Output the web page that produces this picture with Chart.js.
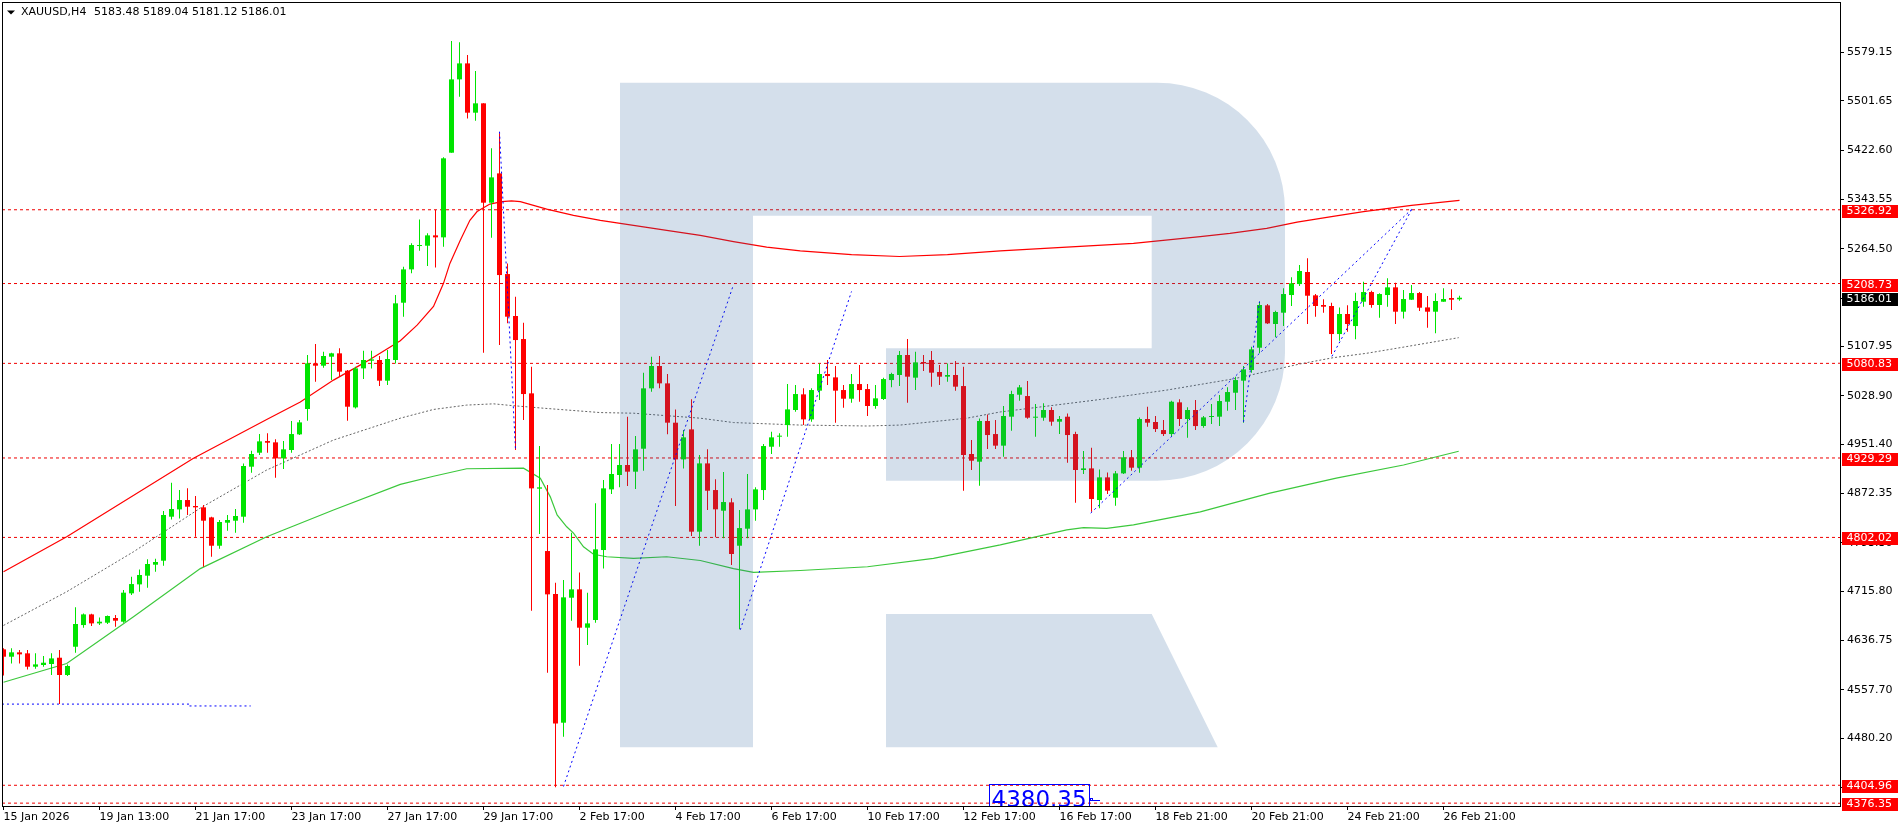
<!DOCTYPE html>
<html>
<head>
<meta charset="utf-8">
<script src="https://cdn.jsdelivr.net/npm/chart.js@4.4.1/dist/chart.umd.min.js"></script>
<style>
  html, body { margin: 0; padding: 0; background: #fff; overflow: hidden; }
</style>
</head>
<body>
<canvas id="chart" width="1904" height="830"></canvas>
<script>
// XAUUSD H4, one entry per bar
const symbol = "XAUUSD,H4";
const lastQuote = [5183.48, 5189.04, 5181.12, 5186.01];

const open = [
  4622.7, 4610.9, 4617.9, 4616.3, 4594.9, 4597.6, 4599.2, 4609.3, 4581.6, 4626.9,
  4661.6, 4678.7, 4664.3, 4665.4, 4672.9, 4667.0, 4712.4, 4726.8, 4740.7, 4758.3,
  4764.7, 4835.2, 4846.9, 4861.9, 4852.3, 4850.2, 4834.1, 4788.7, 4825.6, 4828.8,
  4835.2, 4915.3, 4937.7, 4956.4, 4954.3, 4928.7, 4942.0, 4967.1, 5007.7, 5080.8,
  5077.1, 5091.5, 5096.9, 5069.1, 5010.3, 5072.8, 5085.1, 5086.2, 5053.1, 5086.2,
  5178.0, 5231.4, 5268.8, 5269.3, 5285.9, 5282.7, 5418.3, 5535.8, 5561.4, 5482.4,
  5497.4, 5338.2, 5385.2, 5223.9, 5156.7, 5119.8, 5032.8, 4880.1, 4780.2, 4711.3,
  4505.2, 4705.4, 4718.8, 4657.4, 4669.7, 4781.8, 4879.0, 4902.0, 4918.0, 4907.3,
  4944.1, 5040.8, 5076.6, 5048.8, 4985.8, 4927.0, 4975.1, 4811.2, 4920.6, 4877.9,
  4844.8, 4858.2, 4788.7, 4816.0, 4846.9, 4877.9, 4947.3, 4963.4, 4982.0, 5006.1,
  5031.2, 4991.1, 5037.1, 5063.8, 5058.4, 5038.1, 5024.2, 5047.7, 5039.7, 5012.5,
  5023.7, 5054.1, 5062.2, 5094.2, 5057.9, 5083.0, 5086.2, 5067.0, 5059.5, 5062.2,
  5044.5, 4935.6, 4923.3, 4988.5, 4967.6, 4949.0, 4995.4, 5030.6, 5028.5, 4993.8,
  4993.8, 5006.1, 4987.4, 4995.4, 4967.6, 4910.0, 4912.6, 4861.9, 4898.2, 4865.6,
  4904.6, 4930.3, 4913.7, 4991.7, 4986.9, 4974.0, 4967.6, 5018.4, 4991.7, 5006.1,
  4980.5, 4994.9, 4995.4, 5019.4, 5033.8, 5053.1, 5070.2, 5105.9, 5173.8, 5143.9,
  5162.0, 5190.3, 5207.9, 5227.2, 5189.8, 5174.3, 5172.7, 5127.8, 5159.9, 5140.6,
  5179.6, 5195.1, 5174.3, 5190.3, 5202.6, 5163.6, 5182.8, 5193.5, 5170.5, 5163.6,
  5179.6, 5185.5, 5183.48
];
const high = [
  4624.3, 4624.3, 4621.6, 4621.6, 4616.3, 4612.0, 4616.3, 4621.6, 4598.6, 4690.0,
  4680.3, 4679.8, 4673.9, 4677.1, 4677.7, 4717.7, 4739.1, 4750.8, 4766.9, 4767.9,
  4844.3, 4889.7, 4877.9, 4880.6, 4868.3, 4853.9, 4835.2, 4829.9, 4837.9, 4847.5,
  4920.6, 4940.9, 4967.6, 4968.7, 4959.1, 4956.4, 4988.5, 4990.1, 5094.2, 5111.8,
  5099.5, 5097.9, 5104.9, 5070.2, 5075.5, 5101.1, 5101.1, 5092.6, 5102.2, 5190.3,
  5235.7, 5273.1, 5311.5, 5289.1, 5326.5, 5410.9, 5597.2, 5595.1, 5574.8, 5549.2,
  5497.4, 5425.3, 5449.3, 5241.0, 5187.6, 5146.0, 5075.5, 4948.4, 4885.9, 4729.5,
  4733.7, 4809.6, 4746.0, 4713.5, 4856.6, 4893.9, 4951.6, 4951.6, 4995.4, 4964.4,
  5065.9, 5091.5, 5092.6, 5063.8, 5007.1, 4974.0, 5023.2, 4934.0, 4943.1, 4895.0,
  4906.8, 4864.6, 4845.9, 4903.6, 4882.2, 4951.6, 4971.4, 4968.7, 5047.7, 5046.1,
  5040.8, 5040.8, 5080.8, 5086.2, 5076.6, 5046.1, 5063.8, 5078.2, 5047.7, 5046.1,
  5057.9, 5065.9, 5100.6, 5119.8, 5099.5, 5094.2, 5100.6, 5078.2, 5080.8, 5084.6,
  5075.5, 4958.0, 4992.7, 4999.1, 4990.1, 5012.5, 5037.1, 5046.1, 5052.5, 5015.7,
  5016.8, 5010.4, 4996.5, 5000.7, 4971.4, 4940.4, 4945.7, 4911.0, 4906.2, 4908.4,
  4940.4, 4942.0, 4994.3, 5011.4, 4996.5, 4990.1, 5021.0, 5023.2, 5010.4, 5022.1,
  4996.5, 5015.7, 5030.1, 5042.4, 5059.5, 5076.6, 5107.5, 5179.6, 5175.9, 5165.2,
  5201.0, 5218.6, 5238.4, 5249.1, 5191.9, 5183.4, 5178.0, 5170.5, 5173.8, 5194.0,
  5211.7, 5197.3, 5193.0, 5217.0, 5210.1, 5198.3, 5206.3, 5195.1, 5188.7, 5193.0,
  5201.0, 5199.4, 5189.04
];
const low = [
  4581.0, 4600.2, 4600.2, 4590.6, 4591.7, 4594.9, 4581.6, 4535.1, 4580.0, 4617.3,
  4657.4, 4660.0, 4661.6, 4663.3, 4659.0, 4665.4, 4709.7, 4715.1, 4721.5, 4747.1,
  4756.7, 4830.9, 4832.5, 4837.9, 4803.2, 4755.1, 4771.1, 4783.9, 4812.8, 4809.6,
  4825.6, 4905.7, 4934.0, 4937.7, 4897.7, 4911.6, 4937.7, 4966.0, 4989.0, 5051.5,
  5073.9, 5054.2, 5059.5, 4989.0, 5008.7, 5055.7, 5072.8, 5044.5, 5046.1, 5080.8,
  5155.6, 5225.0, 5261.3, 5236.8, 5234.6, 5267.8, 5418.3, 5508.0, 5473.3, 5469.6,
  5097.9, 5282.2, 5110.2, 5144.9, 4942.0, 4990.1, 4684.6, 4807.4, 4585.3, 4401.6,
  4482.8, 4668.6, 4596.5, 4629.6, 4665.4, 4752.4, 4871.5, 4882.2, 4884.3, 4879.5,
  4908.9, 5035.5, 5040.8, 4967.1, 4852.3, 4912.6, 4804.2, 4788.7, 4845.9, 4802.1,
  4800.5, 4757.8, 4654.7, 4800.5, 4828.8, 4861.9, 4935.6, 4947.3, 4963.4, 5003.4,
  4982.1, 4987.4, 5022.1, 5046.1, 4985.8, 5009.8, 5017.8, 5019.4, 4996.5, 5008.2,
  5022.1, 5042.4, 5044.5, 5017.8, 5038.1, 5068.6, 5043.5, 5046.1, 5051.5, 5037.1,
  4876.9, 4910.0, 4884.9, 4943.6, 4943.6, 4931.3, 4973.0, 5021.0, 4992.2, 4963.4,
  4989.0, 4981.0, 4967.6, 4921.7, 4857.6, 4903.6, 4843.2, 4848.6, 4871.5, 4852.8,
  4903.6, 4909.0, 4905.7, 4979.4, 4970.8, 4964.4, 4964.4, 4980.4, 4961.8, 4974.0,
  4977.8, 4983.7, 4980.5, 5005.0, 5006.1, 4985.8, 5065.9, 5096.9, 5143.9, 5122.5,
  5140.6, 5172.7, 5204.7, 5143.9, 5155.6, 5162.0, 5095.8, 5117.2, 5131.6, 5119.3,
  5171.6, 5170.0, 5154.0, 5171.6, 5143.9, 5152.9, 5182.3, 5164.7, 5138.0, 5128.9,
  5179.6, 5166.3, 5181.12
];
const close = [
  4610.9, 4617.9, 4614.7, 4594.9, 4598.6, 4601.3, 4608.2, 4581.6, 4596.0, 4663.3,
  4678.7, 4664.3, 4667.0, 4676.1, 4668.6, 4713.5, 4727.3, 4741.8, 4759.4, 4762.6,
  4837.9, 4847.5, 4861.9, 4851.2, 4850.2, 4828.8, 4788.7, 4826.7, 4829.9, 4836.3,
  4916.4, 4935.6, 4955.9, 4953.7, 4928.7, 4943.1, 4967.6, 4986.3, 5080.8, 5077.1,
  5092.6, 5096.9, 5067.5, 5011.4, 5072.8, 5086.2, 5087.2, 5053.1, 5087.8, 5177.0,
  5231.4, 5270.4, 5270.4, 5285.9, 5282.7, 5409.3, 5535.8, 5561.4, 5482.4, 5497.4,
  5338.2, 5378.8, 5222.3, 5155.6, 5118.2, 5031.7, 4880.6, 4882.2, 4710.8, 4504.1,
  4706.0, 4718.8, 4657.4, 4664.3, 4782.9, 4880.6, 4903.6, 4918.0, 4907.3, 4943.1,
  5040.8, 5076.6, 5048.8, 4985.8, 4927.0, 4962.3, 4811.2, 4920.6, 4876.8, 4847.0,
  4858.7, 4775.4, 4817.0, 4846.9, 4879.0, 4948.4, 4962.3, 4965.0, 5007.1, 5031.7,
  4991.1, 5038.1, 5063.8, 5060.5, 5037.1, 5024.2, 5047.7, 5038.1, 5012.5, 5024.8,
  5055.7, 5063.8, 5094.2, 5059.5, 5082.4, 5080.8, 5065.9, 5059.5, 5062.2, 5043.5,
  4934.0, 4924.9, 4988.5, 4966.0, 4949.0, 4996.5, 5031.7, 5042.4, 4993.8, 4995.4,
  5006.1, 4987.4, 4991.7, 4966.0, 4910.0, 4912.6, 4863.5, 4898.2, 4876.9, 4904.6,
  4930.3, 4913.7, 4991.7, 4985.8, 4975.6, 4967.6, 5019.4, 4991.7, 5006.1, 4980.4,
  4994.3, 4996.5, 5020.5, 5034.9, 5054.1, 5071.2, 5103.3, 5174.3, 5144.9, 5163.1,
  5191.9, 5209.0, 5228.8, 5189.2, 5172.7, 5171.6, 5127.8, 5159.9, 5143.9, 5180.7,
  5195.1, 5174.3, 5191.9, 5202.6, 5163.6, 5183.9, 5193.5, 5170.0, 5163.6, 5180.7,
  5183.9, 5182.8, 5186.01
];

// time axis: one label every 12 bars
const xLabels = [
  "15 Jan 2026", "19 Jan 13:00", "21 Jan 17:00", "23 Jan 17:00", "27 Jan 17:00",
  "29 Jan 17:00", "2 Feb 17:00", "4 Feb 17:00", "6 Feb 17:00", "10 Feb 17:00",
  "12 Feb 17:00", "16 Feb 17:00", "18 Feb 21:00", "20 Feb 21:00", "24 Feb 21:00",
  "26 Feb 21:00"
];
const xLabelStep = 12;

const yTicks = [
  5579.15, 5501.65, 5422.60, 5343.55, 5264.50, 5185.45, 5107.95, 5028.90,
  4951.40, 4872.35, 4793.30, 4715.80, 4636.75, 4557.70, 4480.20, 4401.15
];

// horizontal levels and current price
const levels = [5326.92, 5208.73, 5080.83, 4929.29, 4802.02, 4404.96, 4376.35];
const currentPrice = 5186.01;

// indicator lines, read as [bar, price]
const upperLine = [
  [0, 4747], [7.9, 4803], [23.75, 4929], [32.9, 4991], [37.1, 5019], [41.25, 5054],
  [45.4, 5084], [49.6, 5117], [51.7, 5142], [53.75, 5172], [55, 5209], [55.8, 5241],
  [57.1, 5278], [58.3, 5310], [59.2, 5324], [60.8, 5336], [62.3, 5340], [63.5, 5341],
  [64.6, 5340], [67.9, 5328], [71.25, 5318], [74.6, 5310], [78.75, 5302], [82.9, 5294],
  [87.1, 5286], [91.25, 5276], [95.4, 5267], [99.6, 5261], [106, 5255], [112, 5252],
  [118, 5255], [124.6, 5261], [132.9, 5267], [141.25, 5273], [149.6, 5284], [153.3, 5289],
  [157.9, 5297], [161.7, 5307], [166, 5316], [170, 5324], [176, 5334], [182, 5342]
];
const middleLine = [
  [0, 4661], [7.9, 4715], [16.25, 4779], [24.6, 4849], [32.9, 4910], [41.25, 4958],
  [49.6, 4993], [53.75, 5007], [57.9, 5014], [61.25, 5016], [63.75, 5013], [67.5, 5009],
  [74.6, 5002], [78.75, 5001], [87.1, 4993], [91.25, 4986], [95.4, 4984], [99.6, 4982],
  [108, 4980.5], [112.1, 4982], [120.4, 4993], [124.6, 5003], [137.1, 5023], [145.4, 5038],
  [153.75, 5056], [162.1, 5080], [166.25, 5090], [170.4, 5097], [174.6, 5106], [181.9, 5122]
];
const lowerLine = [
  [0, 4570], [7.9, 4600], [16.25, 4675], [24.6, 4752], [32.9, 4803], [41.25, 4846],
  [49.6, 4887], [53.75, 4900], [57.9, 4912], [65, 4913], [67.1, 4897], [68.35, 4867],
  [69.2, 4838], [70.4, 4819], [71.25, 4809], [72.5, 4787], [73.75, 4775], [75.4, 4771],
  [78.75, 4768.5], [82.9, 4771], [87.1, 4765], [91.25, 4752], [93.75, 4746], [99.6, 4749],
  [108, 4755], [116.25, 4768.5], [124.6, 4790], [132.9, 4814], [135, 4817.6], [137.9, 4816.5],
  [141.25, 4822], [149.6, 4843], [158.3, 4873], [166.6, 4897], [175, 4918], [181.9, 4940]
];

// drawn trend lines, [bar, price] end points
const trendLines = [
  [[62, 5452], [64, 4942]],
  [[70, 4403], [91.2, 5205]],
  [[92.1, 4654], [106, 5196]],
  [[135.9, 4841], [176.05, 5328]],
  [[155, 4987], [157, 5180]],
  [[166.05, 5092], [176.05, 5328]],
  [[-0.19, 4535], [23.25, 4535]],
  [[23.25, 4532], [30.9, 4532]]
];
const priceNote = { bar: 123.2, price: 4380.35, text: "4380.35" };

const xMin = -0.1875, xMax = 229.5625;
const yMin = 4371.75, yMax = 5659.73;

const upColor = '#00e400';
const downColor = '#ff0000';
const candleColors = open.map((o, i) => close[i] >= o ? upColor : downColor);
const toPts = arr => arr.map(([x, y]) => ({ x, y }));

const datasets = [
  {
    type: 'bar', label: 'body',
    data: open.map((o, i) => ({ x: i, y: [o, close[i]] })),
    backgroundColor: candleColors, barThickness: 5, grouped: false,
    minBarLength: 1, inflateAmount: 0, borderWidth: 0, order: 1
  },
  {
    type: 'bar', label: 'wick',
    data: high.map((h, i) => ({ x: i, y: [low[i], h] })),
    backgroundColor: candleColors, barThickness: 1, grouped: false,
    minBarLength: 1, inflateAmount: 0, borderWidth: 0, order: 2
  },
  { type: 'line', data: toPts(upperLine), borderColor: '#ff0000', borderWidth: 1.2, pointRadius: 0, order: 4 },
  { type: 'line', data: toPts(middleLine), borderColor: '#646464', borderWidth: 1, borderDash: [2, 2], pointRadius: 0, order: 4 },
  { type: 'line', data: toPts(lowerLine), borderColor: '#3cc83c', borderWidth: 1.2, pointRadius: 0, order: 4 }
];

levels.forEach(v => {
  datasets.push({
    type: 'line', data: [{ x: xMin, y: v }, { x: xMax, y: v }],
    borderColor: '#f00000', borderWidth: 1, borderDash: [3, 3], pointRadius: 0, order: 5
  });
});

trendLines.forEach(seg => {
  datasets.push({
    type: 'line', data: toPts(seg),
    borderColor: '#0000ff', borderWidth: 1, borderDash: [2, 3], pointRadius: 0, order: 0
  });
});

const FONT = '"DejaVu Sans"';

const overlay = {
  id: 'overlay',
  afterDatasetsDraw(chart) {
    const { ctx, chartArea: a, scales: { x, y } } = chart;
    ctx.save();
    ctx.beginPath();
    ctx.rect(a.left, a.top, a.right - a.left, a.bottom - a.top);
    ctx.clip();

    // broker watermark
    ctx.fillStyle = 'rgba(40,95,155,0.2)';
    ctx.beginPath();
    ctx.moveTo(620, 82.7);
    ctx.lineTo(1157, 82.7);
    ctx.arcTo(1285, 82.7, 1285, 210.7, 128);
    ctx.lineTo(1285, 352.7);
    ctx.arcTo(1285, 480.7, 1157, 480.7, 128);
    ctx.lineTo(886, 480.7);
    ctx.lineTo(886, 348.3);
    ctx.lineTo(1151.7, 348.3);
    ctx.lineTo(1151.7, 215.7);
    ctx.lineTo(753, 215.7);
    ctx.lineTo(753, 747.3);
    ctx.lineTo(620, 747.3);
    ctx.closePath();
    ctx.moveTo(886, 614);
    ctx.lineTo(1151.7, 614);
    ctx.lineTo(1217.7, 747.3);
    ctx.lineTo(886, 747.3);
    ctx.closePath();
    ctx.fill();

    // price note box
    const px = Math.round(x.getPixelForValue(priceNote.bar));
    const py = y.getPixelForValue(priceNote.price);
    ctx.strokeStyle = '#0000ff';
    ctx.lineWidth = 1;
    ctx.strokeRect(px + 0.5, Math.round(py - 16.4) + 0.5, 100, 40);
    ctx.fillStyle = '#0000ff';
    ctx.font = '23px ' + FONT;
    ctx.textBaseline = 'alphabetic';
    ctx.textAlign = 'left';
    ctx.fillText(priceNote.text, px + 2.5, py + 6.3);
    ctx.beginPath();
    ctx.moveTo(px + 100, Math.round(py) - 0.5);
    ctx.lineTo(px + 111, Math.round(py) - 0.5);
    ctx.stroke();
    ctx.strokeRect(px + 101.5, Math.round(py) - 2.5, 2, 2);
    ctx.restore();

    // frame
    ctx.save();
    ctx.strokeStyle = '#000';
    ctx.lineWidth = 1;
    ctx.strokeRect(a.left + 0.5, a.top + 0.5, a.right - a.left, a.bottom - a.top);
    ctx.restore();
  },
  afterDraw(chart) {
    const { ctx, chartArea: a, scales: { y } } = chart;
    ctx.save();
    ctx.font = '11px ' + FONT;
    ctx.textBaseline = 'middle';
    ctx.textAlign = 'left';

    const tag = (v, bg) => {
      const py = Math.round(y.getPixelForValue(v));
      ctx.fillStyle = bg;
      ctx.fillRect(a.right + 2, py - 5, 56, 13);
      ctx.fillStyle = '#fff';
      ctx.fillText(v.toFixed(2), a.right + 6.5, py + 1.5);
    };
    levels.forEach(v => tag(v, '#ff0000'));
    tag(currentPrice, '#000');

    // header
    ctx.fillStyle = '#000';
    ctx.beginPath();
    ctx.moveTo(7, 10.5);
    ctx.lineTo(15, 10.5);
    ctx.lineTo(11, 14.5);
    ctx.closePath();
    ctx.fill();
    ctx.fillText(symbol, 21, 12.5);
    ctx.fillText(lastQuote.map(v => v.toFixed(2)).join(' '), 94, 12.5);
    ctx.restore();
  }
};

new Chart(document.getElementById('chart'), {
  type: 'bar',
  data: { datasets },
  options: {
    responsive: false,
    animation: false,
    events: [],
    layout: { padding: { left: 2, top: 2, right: 0, bottom: 0 } },
    plugins: { legend: { display: false }, tooltip: { enabled: false } },
    scales: {
      x: {
        type: 'linear', position: 'bottom', min: xMin, max: xMax, offset: false,
        afterBuildTicks: s => { s.ticks = xLabels.map((l, k) => ({ value: k * xLabelStep })); },
        afterFit: s => { s.height = 24; s.paddingLeft = 0; s.paddingRight = 0; s.paddingTop = 0; s.paddingBottom = 0; },
        grid: { drawOnChartArea: false, drawTicks: true, tickLength: 4, color: '#000', offset: false },
        border: { display: false },
        ticks: {
          autoSkip: false, maxRotation: 0, minRotation: 0, align: 'start', padding: 1,
          color: '#000', font: { family: 'DejaVu Sans', size: 11 },
          callback: v => xLabels[Math.round(v / xLabelStep)] || ''
        }
      },
      y: {
        type: 'linear', position: 'right', min: yMin, max: yMax,
        afterBuildTicks: s => { s.ticks = yTicks.map(v => ({ value: v })); },
        afterFit: s => { s.width = 64; s.paddingLeft = 0; s.paddingRight = 0; s.paddingTop = 0; s.paddingBottom = 0; },
        grid: { drawOnChartArea: false, drawTicks: true, tickLength: 4, color: '#000' },
        border: { display: false },
        ticks: {
          autoSkip: false, padding: 3, color: '#000',
          font: { family: 'DejaVu Sans', size: 11 },
          callback: v => Number(v).toFixed(2)
        }
      }
    }
  },
  plugins: [overlay]
});
</script>
</body>
</html>
